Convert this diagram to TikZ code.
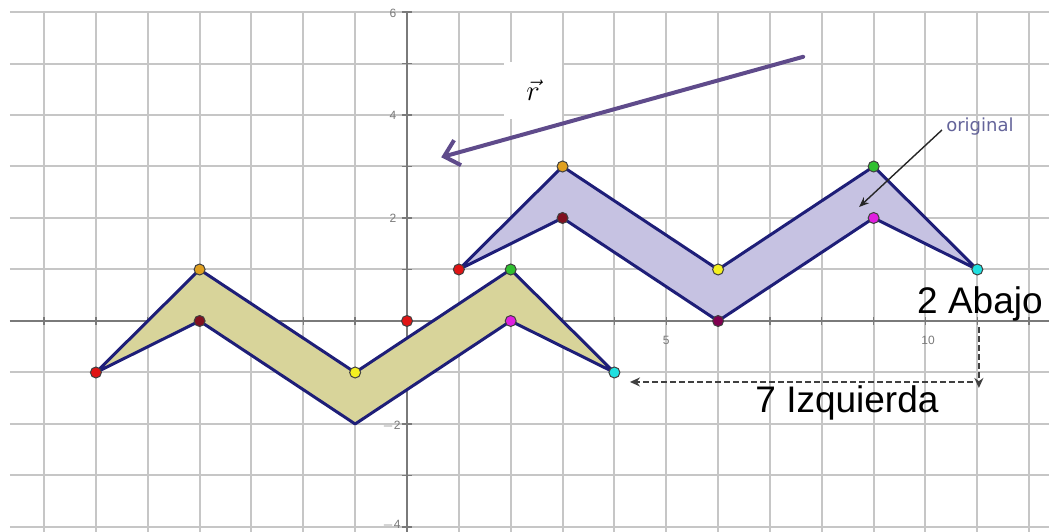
\documentclass[tikz,border=0pt]{standalone}
\usepackage{fontspec}
\setmainfont{Liberation Sans}
\newfontfamily\labfont{DejaVu Sans}
\usetikzlibrary{arrows.meta}
\definecolor{gridc}{HTML}{C6C6C6}
\definecolor{axisc}{HTML}{7A7A7A}
\definecolor{edgec}{HTML}{1E1E78}
\definecolor{lavfill}{HTML}{C6C2E2}
\definecolor{yelfill}{HTML}{D8D49A}
\definecolor{vecc}{HTML}{5F4B8B}
\definecolor{origc}{HTML}{64649A}
\definecolor{pred}{HTML}{E01414}
\definecolor{porange}{HTML}{E0A020}
\definecolor{pdred}{HTML}{801020}
\definecolor{pyellow}{HTML}{F4F020}
\definecolor{ppurple}{HTML}{800050}
\definecolor{pgreen}{HTML}{30C030}
\definecolor{pmag}{HTML}{E020E0}
\definecolor{pcyan}{HTML}{20E0E0}
\tikzset{
  gridline/.style={gridc, line width=1pt},
  axisline/.style={axisc, line width=0.7pt},
  ticklab/.style={font=\fontsize{6}{7}\selectfont, text=axisc, inner sep=0pt},
  band/.style={edgec, line width=1.5pt, line join=round},
  pt/.style={circle, draw=black!75, line width=0.5pt, minimum size=5.5pt, inner sep=0pt},
  bigtxt/.style={font=\fontsize{18.5}{20}\selectfont, inner sep=0pt, anchor=base},
  dasharrow/.style={draw=black!75, line width=1pt, dash pattern=on 3pt off 1.5pt, -{Stealth[length=5pt,width=4.5pt]}},
}
\begin{document}
\begin{tikzpicture}[x=25.925pt,y=25.75pt]
\useasboundingbox (-7.850,-4.078) rectangle (12.382,6.233);
\clip (-7.850,-4.078) rectangle (12.382,6.233);
\fill[white] (-7.850,-4.078) rectangle (12.382,6.233);
% grid
\foreach \x in {-7,...,12} \draw[gridline] (\x,6) -- (\x,-4.3);
\foreach \y in {-4,...,6} \draw[gridline] (-7.66,\y) -- (12.5,\y);
% axes
\draw[axisline] (-7.66,0) -- (12.5,0);
\draw[axisline] (0,6) -- (0,-4.3);
\foreach \x in {-7,...,12} \draw[axisline] (\x,-0.07) -- (\x,0.07);
\foreach \y in {-4,...,6} \draw[axisline] (-0.1,\y) -- (0.1,\y);
% tick labels
\node[ticklab] (l5) at (5,-0.37) {5};
\node[ticklab] (l10) at (10.05,-0.37) {10};
\node[ticklab] (lm5) at (-5.1,-0.33) {$-$5};
\node[ticklab] (l2) at (-0.27,2) {2};
\node[ticklab] (l4) at (-0.27,4) {4};
\node[ticklab] (l6) at (-0.27,5.97) {6};
\node[ticklab] (lm2) at (-0.3,-2.05) {$-$2};
\node[ticklab] (lm4) at (-0.3,-3.96) {$-$4};
% vertices of the original figure
\coordinate (A) at (1,1);
\coordinate (B) at (3,3);
\coordinate (C) at (6,1);
\coordinate (D) at (9,3);
\coordinate (E) at (11,1);
\coordinate (F) at (9,2);
\coordinate (G) at (6,0);
\coordinate (H) at (3,2);
% translated vertices
\coordinate (A2) at (-6,-1);
\coordinate (B2) at (-4,1);
\coordinate (C2) at (-1,-1);
\coordinate (D2) at (2,1);
\coordinate (E2) at (4,-1);
\coordinate (F2) at (2,0);
\coordinate (G2) at (-1,-2);
\coordinate (H2) at (-4,0);
% bands
\filldraw[band, fill=lavfill] (A) -- (B) -- (C) -- (D) -- (E) -- (F) -- (G) -- (H) -- cycle;
\filldraw[band, fill=yelfill] (A2) -- (B2) -- (C2) -- (D2) -- (E2) -- (F2) -- (G2) -- (H2) -- cycle;
% points
\node[pt, fill=pred] (pA) at (A) {};
\node[pt, fill=porange] (pB) at (B) {};
\node[pt, fill=pyellow] (pC) at (C) {};
\node[pt, fill=pgreen] (pD) at (D) {};
\node[pt, fill=pcyan] (pE) at (E) {};
\node[pt, fill=pmag] (pF) at (F) {};
\node[pt, fill=ppurple] (pG) at (G) {};
\node[pt, fill=pdred] (pH) at (H) {};
\node[pt, fill=pred] (pA2) at (A2) {};
\node[pt, fill=porange] (pB2) at (B2) {};
\node[pt, fill=pyellow] (pC2) at (C2) {};
\node[pt, fill=pgreen] (pD2) at (D2) {};
\node[pt, fill=pcyan] (pE2) at (E2) {};
\node[pt, fill=pmag] (pF2) at (F2) {};
\node[pt, fill=pdred] (pH2) at (H2) {};
\node[pt, fill=pred] (pO) at (0,0) {};
% vector r
\coordinate (rs) at (7.64,5.13);
\coordinate (re) at (0.66,3.18);
\draw[vecc, line width=2pt, line cap=round, -{Straight Barb[length=7pt,width=13pt]}] (rs) -- (re);
\node[fill=white, minimum width=29pt, minimum height=28.5pt, inner sep=0pt] (rlab) at (2.43,4.476) {\fontsize{15}{17}\selectfont$\vec{r}$};
% original label
\node[font=\labfont\fontsize{9}{10}\selectfont, text=origc, inner sep=0pt, anchor=base] (orig) at (11.05,3.689) {original};
\coordinate (oa) at (10.318,3.709);
\coordinate (ob) at (8.72,2.214);
\draw[black!85, line width=0.7pt, -{Stealth[length=5pt,width=4pt]}] (oa) -- (ob);
% translation labels
\node[bigtxt] (abajo) at (11.05,0.155) {2 Abajo};
\node[bigtxt] (izq) at (8.486,-1.786) {7 Izquierda};
\coordinate (v1) at (11.03,-0.117);
\coordinate (v2) at (11.03,-1.30);
\coordinate (h1) at (10.916,-1.184);
\coordinate (h2) at (4.30,-1.184);
\draw[dasharrow] (v1) -- (v2);
\draw[dasharrow] (h1) -- (h2);
\end{tikzpicture}
\end{document}
